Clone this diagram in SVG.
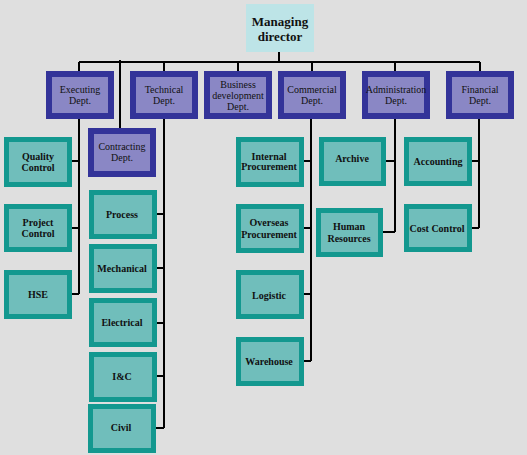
<svg xmlns="http://www.w3.org/2000/svg" width="527" height="455" viewBox="0 0 527 455">
<style>
.bg{fill:#dfdfdf}
.md{fill:#bde4e7}
.dept{fill:#8a87c5;stroke:#333399;stroke-width:6}
.unit{fill:#70bebb;stroke:#13988f;stroke-width:5}
.ln{stroke:#000;stroke-width:2;fill:none}
text{font-family:'Liberation Serif','DejaVu Serif',serif;text-anchor:middle;fill:#111}
.t1{font-size:13px;font-weight:bold}
.t2{font-size:10px}
.t3{font-size:10px;font-weight:bold}
</style>
<rect class="bg" x="0" y="0" width="527" height="455"/>
<g id="connectors">
<path class="ln" d="M279,52V62M79,62H480M79,62V71M164,62V71M238,62V71M312,62V71M395,62V71M480,62V71"/>
<path class="ln" d="M120,60V128"/>
<path class="ln" d="M79,119V294M72,161H79M72,228H79M72,294H79"/>
<path class="ln" d="M164,119V428M156,214H164M156,268H164M156,323H164M156,376H164M156,428H164"/>
<path class="ln" d="M311,119V361M304,161H311M304,228H311M304,294H311M304,361H311"/>
<path class="ln" d="M395,119V232M386,161H395M383,232H395"/>
<path class="ln" d="M479,119V228M472,161H479M472,228H479"/>
</g>
<g id="md"><rect class="md" x="246" y="4" width="68" height="48"/><text class="t1" x="280" y="26">Managing</text><text class="t1" x="280" y="41">director</text></g>
<g id="executing"><rect class="dept" x="49" y="74" width="62" height="42"/><text class="t2" x="80" y="93">Executing</text><text class="t2" x="80" y="104">Dept.</text></g>
<g id="technical"><rect class="dept" x="133" y="74" width="62" height="42"/><text class="t2" x="164" y="93">Technical</text><text class="t2" x="164" y="104">Dept.</text></g>
<g id="business"><rect class="dept" x="207" y="74" width="62" height="42"/><text class="t2" x="238" y="88">Business</text><text class="t2" x="238" y="99">development</text><text class="t2" x="238" y="110">Dept.</text></g>
<g id="commercial"><rect class="dept" x="281" y="74" width="62" height="42"/><text class="t2" x="312" y="93">Commercial</text><text class="t2" x="312" y="104">Dept.</text></g>
<g id="administration"><rect class="dept" x="365" y="74" width="62" height="42"/><text class="t2" x="396" y="93">Administration</text><text class="t2" x="396" y="104">Dept.</text></g>
<g id="financial"><rect class="dept" x="449" y="74" width="62" height="42"/><text class="t2" x="480" y="93">Financial</text><text class="t2" x="480" y="104">Dept.</text></g>
<g id="contracting"><rect class="dept" x="91" y="131" width="62" height="43"/><text class="t2" x="122" y="150">Contracting</text><text class="t2" x="122" y="161">Dept.</text></g>
<g id="quality"><rect class="unit" x="6.5" y="139.5" width="63" height="45"/><text class="t3" x="38" y="160">Quality</text><text class="t3" x="38" y="171">Control</text></g>
<g id="project"><rect class="unit" x="6.5" y="206.5" width="63" height="43"/><text class="t3" x="38" y="226">Project</text><text class="t3" x="38" y="237">Control</text></g>
<g id="hse"><rect class="unit" x="6.5" y="272.5" width="63" height="44"/><text class="t3" x="38" y="298">HSE</text></g>
<g id="process"><rect class="unit" x="91.5" y="192.5" width="63" height="44"/><text class="t3" x="122" y="218">Process</text></g>
<g id="mechanical"><rect class="unit" x="91.5" y="246.5" width="63" height="44"/><text class="t3" x="122" y="272">Mechanical</text></g>
<g id="electrical"><rect class="unit" x="91.5" y="300.5" width="63" height="44"/><text class="t3" x="122" y="326">Electrical</text></g>
<g id="ic"><rect class="unit" x="91.5" y="354.5" width="63" height="45"/><text class="t3" x="122" y="380">I&amp;C</text></g>
<g id="civil"><rect class="unit" x="90.5" y="406.5" width="63" height="44"/><text class="t3" x="121" y="431">Civil</text></g>
<g id="internal"><rect class="unit" x="238.5" y="139.5" width="63" height="45"/><text class="t3" x="269" y="160">Internal</text><text class="t3" x="269" y="170">Procurement</text></g>
<g id="overseas"><rect class="unit" x="238.5" y="206.5" width="63" height="44"/><text class="t3" x="269" y="226">Overseas</text><text class="t3" x="269" y="238">Procurement</text></g>
<g id="logistic"><rect class="unit" x="238.5" y="272.5" width="63" height="44"/><text class="t3" x="269" y="299">Logistic</text></g>
<g id="warehouse"><rect class="unit" x="238.5" y="339.5" width="63" height="44"/><text class="t3" x="269" y="365">Warehouse</text></g>
<g id="archive"><rect class="unit" x="321.5" y="139.5" width="62" height="44"/><text class="t3" x="352" y="162">Archive</text></g>
<g id="hr"><rect class="unit" x="318.5" y="210.5" width="62" height="44"/><text class="t3" x="349" y="230">Human</text><text class="t3" x="349" y="242">Resources</text></g>
<g id="accounting"><rect class="unit" x="406.5" y="139.5" width="63" height="44"/><text class="t3" x="438" y="165">Accounting</text></g>
<g id="costcontrol"><rect class="unit" x="406.5" y="206.5" width="63" height="43"/><text class="t3" x="437" y="232">Cost Control</text></g>
</svg>
